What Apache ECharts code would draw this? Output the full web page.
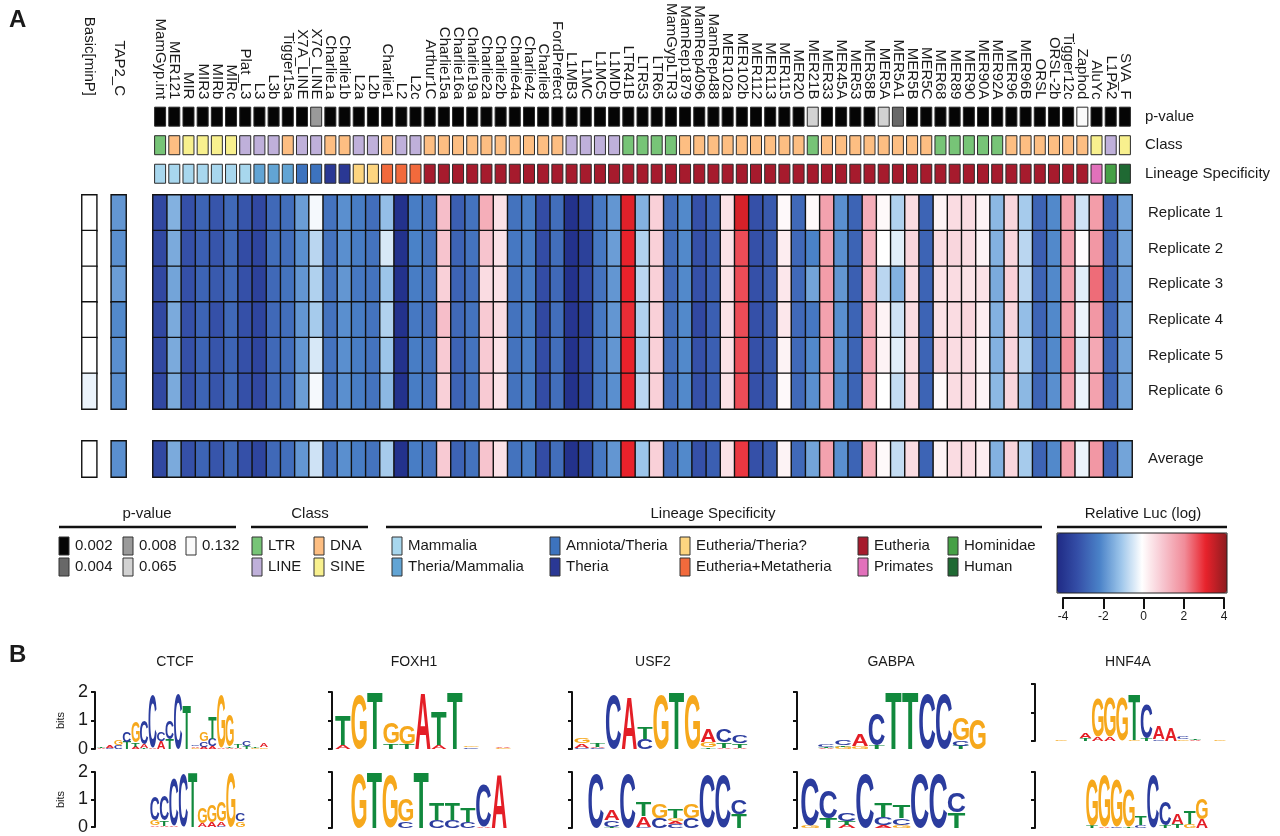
<!DOCTYPE html>
<html>
<head>
<meta charset="utf-8">
<script src="https://cdn.jsdelivr.net/npm/echarts@6/dist/echarts.min.js"></script>
<style>
  html, body { margin: 0; background: #fff; }
  #main { width: 1280px; height: 836px; }
</style>
</head>
<body>
<div id="main"></div>
<script>
// ---- panel A data ----
const columns = ['MamGyp.int', 'MER121', 'MIR', 'MIR3', 'MIRb', 'MIRc', 'Plat_L3', 'L3', 'L3b', 'Tigger15a',
  'X7A_LINE', 'X7C_LINE', 'Charlie1a', 'Charlie1b', 'L2a', 'L2b', 'Charlie1', 'L2', 'L2c', 'Arthur1C',
  'Charlie15a', 'Charlie16a', 'Charlie19a', 'Charlie2a', 'Charlie2b', 'Charlie4a', 'Charlie4z', 'Charlie8', 'FordPrefect', 'L1MB3',
  'L1MC', 'L1MC5', 'L1MDb', 'LTR41B', 'LTR53', 'LTR65', 'MamGypLTR3', 'MamRep1879', 'MamRep4096', 'MamRep488',
  'MER102a', 'MER102b', 'MER112', 'MER113', 'MER115', 'MER20', 'MER21B', 'MER33', 'MER45A', 'MER53',
  'MER58B', 'MER5A', 'MER5A1', 'MER5B', 'MER5C', 'MER68', 'MER89', 'MER90', 'MER90A', 'MER92A',
  'MER96', 'MER96B', 'ORSL', 'ORSL-2b', 'Tigger12c', 'Zaphod', 'AluYc', 'L1PA2', 'SVA_F'];

const pValues = [0.002, 0.002, 0.002, 0.002, 0.002, 0.002, 0.002, 0.002, 0.002, 0.002,
  0.002, 0.008, 0.002, 0.002, 0.002, 0.002, 0.002, 0.002, 0.002, 0.002,
  0.002, 0.002, 0.002, 0.002, 0.002, 0.002, 0.002, 0.002, 0.002, 0.002,
  0.002, 0.002, 0.002, 0.002, 0.002, 0.002, 0.002, 0.002, 0.002, 0.002,
  0.002, 0.002, 0.002, 0.002, 0.002, 0.002, 0.065, 0.002, 0.002, 0.002,
  0.002, 0.065, 0.004, 0.002, 0.002, 0.002, 0.002, 0.002, 0.002, 0.002,
  0.002, 0.002, 0.002, 0.002, 0.002, 0.132, 0.002, 0.002, 0.002];

const classes = ['LTR', 'DNA', 'SINE', 'SINE', 'SINE', 'SINE', 'LINE', 'LINE', 'LINE', 'DNA',
  'LINE', 'LINE', 'DNA', 'DNA', 'LINE', 'LINE', 'DNA', 'LINE', 'LINE', 'DNA',
  'DNA', 'DNA', 'DNA', 'DNA', 'DNA', 'DNA', 'DNA', 'DNA', 'DNA', 'LINE',
  'LINE', 'LINE', 'LINE', 'LTR', 'LTR', 'LTR', 'LTR', 'DNA', 'DNA', 'DNA',
  'DNA', 'DNA', 'DNA', 'DNA', 'DNA', 'DNA', 'LTR', 'DNA', 'DNA', 'DNA',
  'DNA', 'DNA', 'DNA', 'DNA', 'DNA', 'LTR', 'LTR', 'LTR', 'LTR', 'LTR',
  'DNA', 'DNA', 'DNA', 'DNA', 'DNA', 'DNA', 'SINE', 'LINE', 'SINE'];

const lineages = ['Mammalia', 'Mammalia', 'Mammalia', 'Mammalia', 'Mammalia', 'Mammalia', 'Mammalia',
  'Theria/Mammalia', 'Theria/Mammalia', 'Theria/Mammalia', 'Amniota/Theria', 'Amniota/Theria',
  'Theria', 'Theria', 'Eutheria/Theria?', 'Eutheria/Theria?',
  'Eutheria+Metatheria', 'Eutheria+Metatheria', 'Eutheria+Metatheria',
  'Eutheria', 'Eutheria', 'Eutheria', 'Eutheria', 'Eutheria', 'Eutheria', 'Eutheria', 'Eutheria', 'Eutheria', 'Eutheria',
  'Eutheria', 'Eutheria', 'Eutheria', 'Eutheria', 'Eutheria', 'Eutheria', 'Eutheria', 'Eutheria', 'Eutheria', 'Eutheria',
  'Eutheria', 'Eutheria', 'Eutheria', 'Eutheria', 'Eutheria', 'Eutheria', 'Eutheria', 'Eutheria', 'Eutheria', 'Eutheria',
  'Eutheria', 'Eutheria', 'Eutheria', 'Eutheria', 'Eutheria', 'Eutheria', 'Eutheria', 'Eutheria', 'Eutheria', 'Eutheria',
  'Eutheria', 'Eutheria', 'Eutheria', 'Eutheria', 'Eutheria', 'Eutheria', 'Eutheria',
  'Primates', 'Hominidae', 'Human'];

const rowNames = ['Replicate 1', 'Replicate 2', 'Replicate 3', 'Replicate 4', 'Replicate 5', 'Replicate 6'];

// relative luciferase (log), one array per replicate
const rep1 = [-3.2, -1.3, -3.0, -2.6, -2.9, -2.5, -2.9, -3.2, -2.5, -2.4,
  -1.6, -0.1, -2.3, -1.8, -2.1, -2.4, -1.1, -3.8, -2.1, -2.3,
  1.1, -2.7, -2.3, 1.4, 0.5, -2.3, -2.1, -3.1, -2.4, -3.8,
  -3.3, -2.2, -1.7, 3.1, -1.3, 0.8, -2.4, -1.9, -3.0, -2.6,
  0.5, 3.2, -3.0, -2.8, 0.1, -2.5, 0.1, 1.6, -1.8, -2.6,
  1.4, 0.1, -0.8, 0.6, -2.6, 0.2, 0.6, 0.6, 0.2, -1.2,
  0.7, -0.9, -2.6, -1.9, 1.6, -0.5, 1.7, -2.6, -1.5];
const rep2 = [-3.2, -1.4, -3.0, -2.7, -2.9, -2.5, -3.1, -3.3, -2.4, -2.4,
  -1.8, -0.7, -2.3, -1.8, -2.1, -2.3, -0.4, -3.8, -2.0, -2.3,
  1.0, -2.6, -2.3, 1.0, 0.5, -2.2, -2.1, -3.1, -2.4, -3.8,
  -3.4, -2.2, -1.6, 3.0, -0.8, 0.8, -2.4, -1.9, -3.0, -2.7,
  0.5, 2.6, -3.0, -2.8, 0.3, -2.5, -2.0, 1.6, -1.8, -2.6,
  1.3, 0.0, -0.3, 0.7, -2.6, 0.6, 0.7, 0.6, 0.2, -1.3,
  0.7, -0.7, -2.7, -1.9, 1.6, 0.05, 1.8, -2.6, -1.5];
const rep3 = [-3.2, -1.5, -3.0, -2.6, -2.8, -2.5, -3.0, -3.4, -2.5, -2.3,
  -1.7, -0.8, -2.3, -1.7, -2.2, -2.3, -1.0, -3.8, -2.1, -2.3,
  0.8, -2.6, -2.4, 0.6, 0.5, -2.3, -2.1, -3.1, -2.5, -3.8,
  -3.2, -2.3, -1.7, 3.0, -0.7, 0.8, -2.5, -1.9, -3.0, -2.7,
  0.5, 2.6, -3.0, -2.8, 0.4, -2.5, -1.5, 1.7, -1.7, -2.7,
  1.3, -0.7, -1.3, 0.6, -2.6, 0.5, 0.6, 0.5, 0.5, -1.4,
  0.8, -0.7, -2.6, -1.9, 1.6, -0.3, 2.3, -2.6, -1.6];
const rep4 = [-3.2, -1.4, -3.0, -2.6, -3.0, -2.5, -3.0, -3.3, -2.5, -2.4,
  -1.7, -0.9, -2.3, -1.8, -2.1, -2.3, -0.8, -3.8, -2.2, -2.4,
  1.1, -2.5, -2.3, 0.9, 0.6, -2.3, -2.1, -3.2, -2.4, -3.7,
  -3.4, -2.2, -1.7, 2.9, -0.8, 0.8, -2.4, -1.9, -3.2, -2.7,
  0.5, 2.6, -3.0, -2.8, 0.4, -2.5, -2.2, 1.6, -1.8, -2.6,
  1.4, 0.2, -0.5, 0.6, -2.6, 0.5, 0.6, 0.7, 0.3, -1.3,
  0.7, -1.1, -2.6, -1.9, 1.6, -0.2, 1.8, -2.6, -1.5];
const rep5 = [-3.2, -1.4, -3.0, -2.6, -2.9, -2.6, -3.0, -3.3, -2.5, -2.4,
  -1.7, -0.4, -2.3, -1.8, -2.1, -2.3, -1.0, -3.8, -2.1, -2.3,
  0.9, -2.6, -2.3, 0.9, 0.5, -2.3, -2.1, -3.1, -2.4, -3.8,
  -3.2, -2.2, -1.7, 3.0, -0.9, 0.8, -2.4, -1.9, -3.0, -2.7,
  0.5, 2.6, -3.0, -2.8, 0.2, -2.5, -1.9, 1.6, -1.8, -2.6,
  1.5, 0.2, -0.3, 0.6, -2.6, 0.7, 0.6, 0.6, 0.2, -1.3,
  0.7, -0.8, -2.6, -1.9, 1.9, -0.4, 1.5, -2.6, -1.5];
const rep6 = [-3.2, -1.4, -3.0, -2.6, -2.9, -2.5, -3.0, -3.2, -2.5, -2.4,
  -1.6, -0.1, -2.3, -1.8, -2.1, -2.3, -1.2, -3.8, -2.1, -2.3,
  0.8, -2.6, -2.3, 0.9, 0.5, -2.3, -2.1, -3.1, -2.4, -3.8,
  -3.3, -2.2, -1.8, 3.0, -0.7, 0.8, -2.4, -1.9, -3.0, -2.7,
  0.5, 2.6, -3.0, -2.8, 0.1, -2.5, -1.8, 1.5, -1.9, -2.6,
  1.4, 0.0, -0.6, 0.6, -2.6, 0.1, 0.6, 0.6, 0.2, -1.2,
  0.7, -1.2, -2.6, -1.8, 1.6, -0.2, 1.6, -2.6, -1.5];
const average = [-3.2, -1.4, -3.0, -2.6, -2.9, -2.5, -3.0, -3.3, -2.5, -2.4,
  -1.7, -0.5, -2.3, -1.8, -2.1, -2.3, -0.9, -3.8, -2.1, -2.3,
  0.9, -2.6, -2.3, 1.0, 0.5, -2.3, -2.1, -3.1, -2.4, -3.8,
  -3.3, -2.2, -1.7, 3.0, -1.0, 0.8, -2.4, -1.9, -3.0, -2.7,
  0.5, 2.8, -3.0, -2.8, 0.2, -2.5, -1.5, 1.6, -1.8, -2.6,
  1.4, 0.1, -0.6, 0.6, -2.6, 0.2, 0.6, 0.6, 0.3, -1.3,
  0.7, -0.9, -2.6, -1.9, 1.6, -0.2, 1.8, -2.6, -1.5];

// control constructs on the left
const controls = ['Basic[minP]', '', 'TAP2_C'];
const basicMinP = [0, 0, 0, 0, 0, -0.2];
const tap2C = [-1.7, -1.8, -1.6, -1.9, -1.8, -1.8];
const basicMinPAvg = 0;
const tap2CAvg = -1.8;

// ---- panel B data: motif logos, one string per position, letters bottom -> top with bits ----
const ctcfTop = ['A.04 T.06', 'C.05 A.08', 'C.12 G.2', 'T.25 C.35', 'A.08 T.15 G.75', 'T.05 A.12 C.85', 'A.05 C1.85',
  'A.28 C.32', 'T.35 C.65', 'C1.95', 'T1.55', 'G.04 A.06 C.05', 'A.08 C.2 G.32', 'A.1 C.25 T.75', 'A.05 G1.85',
  'A.05 T.05 G1.1', 'A.05 T.12', 'T.1 C.18', 'G.05 T.05', 'G.06 A.14'];
const ctcfBottom = ['A.06 G.2 C.85', 'A.04 T.2 C.9', 'A.05 C1.7', 'C1.9', 'T2', 'A.15 G.55', 'A.18 G.6',
  'C.04 A.16 G.7', 'G1.95', 'G.2 C.3'];
const foxh1Top = ['A.15 T1.05', 'G1.9', 'T2', 'T.2 G.75', 'T.18 G.65', 'A1.95', 'A.15 T1.2', 'T2', 'C.06 G.06', '', 'G.03 A.04'];
const foxh1Bottom = ['G1.95', 'T2', 'G1.9', 'C.25 G.8', 'T2', 'C.3 T.6', 'C.3 T.6', 'C.22 T.5', 'A.06 C1.5', 'A1.9'];
const usf2Top = ['C.05 A.15 G.2', 'C.05 A.03 T.12', 'C1.9', 'A1.8', 'C.35 T.4', 'G1.9', 'T2', 'G1.9', 'T.05 G.2 A.45',
  'A.05 T.2 C.45', 'A.05 T.15 C.25'];
const usf2Bottom = ['C1.95', 'T.05 C.22 A.35', 'C1.95', 'C.05 A.38 T.5', 'C.35 G.5', 'C.15 A.1 G.1 T.3', 'C.35 G.5',
  'C1.9', 'C1.9', 'T.5 C.5'];
const gabpaTop = ['A.03 T.05 C.08', 'G.08 T.05 C.2', 'G.1 A.4', 'T.12 C1.1', 'T2', 'T2', 'C1.95', 'C1.95', 'T.12 C.18 G.8', 'G1.05'];
const gabpaBottom = ['G.08 C1.7', 'T.35 C1.0', 'A.12 T.12 C.3', 'C1.95', 'A.1 C.3 T.5', 'G.1 C.25 T.45', 'C1.95', 'C1.95', 'T.55 C.7'];
const hnf4aTop = ['G.02', '', 'T.1 A.2', 'A.15 G1.35', 'A.15 G1.4', 'G1.5', 'G.05 T1.6', 'T.08 C1.2', 'C.06 A.45', 'A.45',
  'G.06 C.1', 'A.05 T.06', '', 'G.02'];
const hnf4aBottom = ['T.08 G1.65', 'A.05 G1.85', 'C.05 G1.7', 'T.05 G1.3', 'C.1 T.3', 'C1.9', 'T.1 C.85', 'T.15 A.35',
  'G.15 T.45', 'A.3 G.75'];

// ---- styles ----
const FONT = '"Liberation Sans", Arial, sans-serif';
const INK = '#1a1a1a';
const heatColors = ['#1f2a85', '#3550a8', '#4a82c8', '#9cc5ea', '#ffffff', '#f7c4ce', '#f18c99', '#e8222b', '#8c1c1f'];
const pColors = { 0.002: '#050505', 0.004: '#686868', 0.008: '#9a9a9a', 0.065: '#d2d2d2', 0.132: '#fafafa' };
const classColors = { LTR: '#77c477', LINE: '#bfb0da', DNA: '#fdbe82', SINE: '#f8f08e' };
const lineageColors = {
  'Mammalia': '#a8d7ee', 'Theria/Mammalia': '#62a4d4', 'Amniota/Theria': '#3d73be', 'Theria': '#2a3894',
  'Eutheria/Theria?': '#fdd580', 'Eutheria+Metatheria': '#f26a3c', 'Eutheria': '#a61b2d',
  'Primates': '#e271bb', 'Hominidae': '#46a046', 'Human': '#1f6933'
};
const letterColors = { A: '#e41e26', C: '#2b3c9e', G: '#f6a81c', T: '#11893d' };

// ---- build ----
const replicates = [rep1, rep2, rep3, rep4, rep5, rep6];
const heatData = [];
replicates.forEach((row, r) => row.forEach((v, c) => heatData.push([c, r, v])));
const avgData = average.map((v, c) => [c, 0, v]);
const ctrlData = [];
basicMinP.forEach((v, r) => ctrlData.push([0, r, v]));
tap2C.forEach((v, r) => ctrlData.push([2, r, v]));
const ctrlAvgData = [[0, 0, basicMinPAvg], [2, 0, tap2CAvg]];
const annotData = [];
for (let r = 0; r < 3; r++) columns.forEach((_, c) => annotData.push([c, r]));

function annotColor(c, r) {
  if (r === 0) return pColors[pValues[c]];
  if (r === 1) return classColors[classes[c]];
  return lineageColors[lineages[c]];
}

function renderAnnot(params, api) {
  const c = api.value(0), r = api.value(1);
  const p = api.coord([c, r]);
  const w = 11, h = 19;
  return {
    type: 'rect',
    shape: { x: p[0] - w / 2, y: p[1] - h / 2, width: w, height: h },
    style: { fill: annotColor(c, r), stroke: '#2a2a2a', lineWidth: 1 }
  };
}

// glyph ink metrics so each letter fills exactly its box
const LOGO_FONT = 'bold 100px "Liberation Sans"';
const glyph = {};
const mctx = document.createElement('canvas').getContext('2d');
mctx.font = LOGO_FONT;
mctx.textBaseline = 'middle';
mctx.textAlign = 'left';
'ACGT'.split('').forEach(L => {
  const m = mctx.measureText(L);
  glyph[L] = {
    left: m.actualBoundingBoxLeft,
    w: m.actualBoundingBoxLeft + m.actualBoundingBoxRight,
    descent: m.actualBoundingBoxDescent,
    h: m.actualBoundingBoxAscent + m.actualBoundingBoxDescent
  };
});

function renderLetter(params, api) {
  const i = api.value(0), y0 = api.value(1), y1 = api.value(2);
  const L = 'ACGT'[api.value(3)];
  const bottom = api.coord([i, y0]);
  const top = api.coord([i, y1]);
  const bw = api.size([1, 0])[0] * 0.96;
  const h = bottom[1] - top[1];
  if (h < 0.4) return;
  const g = glyph[L];
  const sx = bw / g.w, sy = h / g.h;
  const x0 = bottom[0] - bw / 2;
  return {
    type: 'text',
    x: x0 + sx * g.left,
    y: bottom[1] - sy * g.descent,
    scaleX: sx,
    scaleY: sy,
    silent: true,
    style: {
      text: L, x: 0, y: 0, font: LOGO_FONT, fill: letterColors[L],
      align: 'left', verticalAlign: 'middle', textAlign: 'left', textVerticalAlign: 'middle'
    }
  };
}

function parseStack(s) {
  const out = [];
  s.replace(/([ACGT])([\d.]+)/g, (_, L, b) => { out.push([L, parseFloat(b)]); return ''; });
  return out;
}

const logos = [
  { name: 'CTCF', data: ctcfTop, axisX: 95, left: 97, pitch: 8.55, top: 692, base: 749, labels: true },
  { data: ctcfBottom, axisX: 95, left: 150, pitch: 9.5, top: 772, base: 828, labels: true },
  { name: 'FOXH1', data: foxh1Top, axisX: 332, left: 335, pitch: 16, top: 692, base: 749 },
  { data: foxh1Bottom, axisX: 332, left: 351, pitch: 15.6, top: 772, base: 828 },
  { name: 'USF2', data: usf2Top, axisX: 572, left: 574, pitch: 15.8, top: 692, base: 749 },
  { data: usf2Bottom, axisX: 572, left: 588, pitch: 15.9, top: 772, base: 828 },
  { name: 'GABPA', data: gabpaTop, axisX: 797, left: 818, pitch: 16.8, top: 692, base: 749 },
  { data: gabpaBottom, axisX: 797, left: 801, pitch: 18.3, top: 772, base: 828 },
  { name: 'HNF4A', data: hnf4aTop, axisX: 1035, left: 1055, pitch: 12.2, top: 684, base: 741 },
  { data: hnf4aBottom, axisX: 1035, left: 1086, pitch: 12.2, top: 772, base: 828 }
];
const logoTitleX = { CTCF: 175, FOXH1: 414, USF2: 653, GABPA: 891, HNF4A: 1128 };

const HEAT_LEFT = 153, HEAT_W = 979;
const grid = [
  { left: HEAT_LEFT, width: HEAT_W, top: 99, height: 89 },   // 0 annotation rows
  { left: HEAT_LEFT, width: HEAT_W, top: 195, height: 214 },  // 1 replicates
  { left: HEAT_LEFT, width: HEAT_W, top: 441, height: 36 },   // 2 average
  { left: 82, width: 44, top: 99, height: 89 },               // 3 control labels
  { left: 82, width: 44, top: 195, height: 214 },             // 4 control replicates
  { left: 82, width: 44, top: 441, height: 36 },              // 5 control average
  { left: 1063, width: 161, top: 586, height: 12 }            // 6 colour bar ticks
];
const hiddenCat = (gi, data, inverse) => ({ gridIndex: gi, type: 'category', data, show: false, inverse: !!inverse });
const topLabels = (gi, data) => ({
  gridIndex: gi, type: 'category', data, position: 'top',
  axisLine: { show: false }, axisTick: { show: false },
  axisLabel: { interval: 0, rotate: 90, margin: 3, fontSize: 15, color: INK, fontFamily: FONT }
});
const rightLabels = (gi, data, margin) => ({
  gridIndex: gi, type: 'category', data, position: 'right', inverse: true,
  axisLine: { show: false }, axisTick: { show: false },
  axisLabel: { interval: 0, margin, fontSize: 15, color: INK, fontFamily: FONT }
});
const xAxis = [
  topLabels(0, columns),
  hiddenCat(1, columns),
  hiddenCat(2, columns),
  topLabels(3, controls),
  hiddenCat(4, controls),
  hiddenCat(5, controls),
  {
    gridIndex: 6, type: 'value', min: -4, max: 4, interval: 2, position: 'bottom',
    axisLine: { lineStyle: { color: '#111', width: 2 } },
    axisTick: { length: 11, lineStyle: { color: '#111', width: 2 } },
    axisLabel: { margin: 13, fontSize: 12, color: INK, fontFamily: FONT },
    splitLine: { show: false }
  }
];
const yAxis = [
  rightLabels(0, ['p-value', 'Class', 'Lineage Specificity'], 13),
  rightLabels(1, rowNames, 16),
  rightLabels(2, ['Average'], 16),
  hiddenCat(3, ['']),
  hiddenCat(4, rowNames, true),
  hiddenCat(5, ['Average']),
  { gridIndex: 6, type: 'value', show: false }
];
const cellStyle = { borderColor: '#111', borderWidth: 1.4 };
const series = [
  { type: 'custom', xAxisIndex: 0, yAxisIndex: 0, renderItem: renderAnnot, data: annotData, silent: true },
  { type: 'heatmap', xAxisIndex: 1, yAxisIndex: 1, data: heatData, itemStyle: cellStyle, silent: true },
  { type: 'heatmap', xAxisIndex: 2, yAxisIndex: 2, data: avgData, itemStyle: cellStyle, silent: true },
  { type: 'heatmap', xAxisIndex: 4, yAxisIndex: 4, data: ctrlData, itemStyle: cellStyle, silent: true },
  { type: 'heatmap', xAxisIndex: 5, yAxisIndex: 5, data: ctrlAvgData, itemStyle: cellStyle, silent: true }
];

logos.forEach((lg, k) => {
  const gi = grid.length;
  grid.push({ left: lg.left, top: lg.top, width: lg.data.length * lg.pitch, height: lg.base - lg.top });
  xAxis.push({ gridIndex: gi, type: 'category', data: lg.data.map((_, i) => i), show: false });
  yAxis.push({
    gridIndex: gi, type: 'value', min: 0, max: 2, interval: 1, offset: lg.left - lg.axisX,
    axisLine: { show: true, lineStyle: { color: '#111', width: 2 } },
    axisTick: { show: true, length: 4, lineStyle: { color: '#111', width: 2 } },
    axisLabel: { show: !!lg.labels, fontSize: 18, margin: 7, color: INK, fontFamily: FONT },
    splitLine: { show: false },
    name: lg.labels ? 'bits' : '', nameLocation: 'middle', nameGap: 29, nameRotate: 90,
    nameTextStyle: { fontSize: 11, color: INK, fontFamily: FONT }
  });
  const items = [];
  lg.data.forEach((s, i) => {
    let acc = 0;
    parseStack(s).forEach(([L, b]) => {
      items.push([i, acc, acc + b, 'ACGT'.indexOf(L)]);
      acc += b;
    });
  });
  series.push({ type: 'custom', xAxisIndex: gi, yAxisIndex: gi, renderItem: renderLetter, data: items, silent: true, clip: false });
});

// ---- legends and panel letters ----
function txt(text, x, y, size, align, weight) {
  return {
    type: 'text', x, y, silent: true,
    style: {
      text, fill: INK, font: (weight || 'normal') + ' ' + size + 'px ' + FONT,
      align: align || 'left', verticalAlign: 'middle', textAlign: align || 'left', textVerticalAlign: 'middle'
    }
  };
}
function box(x, yc, fill) {
  return { type: 'rect', silent: true, shape: { x, y: yc - 9, width: 10, height: 18 }, style: { fill, stroke: '#333', lineWidth: 1 } };
}
function rule(x1, x2, y) {
  return { type: 'rect', silent: true, shape: { x: x1, y: y - 1.25, width: x2 - x1, height: 2.5 }, style: { fill: '#111' } };
}
const ROW1 = 546, ROW2 = 567, TITLE_Y = 514, RULE_Y = 527;
const graphic = [
  txt('A', 9, 20, 24, 'left', 'bold'),
  txt('B', 9, 655, 24, 'left', 'bold'),
  txt('p-value', 147, TITLE_Y, 15, 'center'), rule(59, 236, RULE_Y),
  txt('Class', 310, TITLE_Y, 15, 'center'), rule(251, 368, RULE_Y),
  txt('Lineage Specificity', 713, TITLE_Y, 15, 'center'), rule(386, 1042, RULE_Y),
  txt('Relative Luc (log)', 1143, TITLE_Y, 15, 'center'), rule(1057, 1227, RULE_Y)
];
[[59, ROW1, 0.002], [123, ROW1, 0.008], [186, ROW1, 0.132], [59, ROW2, 0.004], [123, ROW2, 0.065]].forEach(([x, y, p]) => {
  graphic.push(box(x, y, pColors[p]), txt(p.toFixed(3), x + 16, y, 15));
});
[[252, ROW1, 'LTR'], [314, ROW1, 'DNA'], [252, ROW2, 'LINE'], [314, ROW2, 'SINE']].forEach(([x, y, k]) => {
  graphic.push(box(x, y, classColors[k]), txt(k, x + 16, y, 15));
});
[[392, ROW1, 'Mammalia'], [550, ROW1, 'Amniota/Theria'], [680, ROW1, 'Eutheria/Theria?'], [858, ROW1, 'Eutheria'], [948, ROW1, 'Hominidae'],
 [392, ROW2, 'Theria/Mammalia'], [550, ROW2, 'Theria'], [680, ROW2, 'Eutheria+Metatheria'], [858, ROW2, 'Primates'], [948, ROW2, 'Human']]
  .forEach(([x, y, k]) => { graphic.push(box(x, y, lineageColors[k]), txt(k, x + 16, y, 15)); });
graphic.push({ type: 'rect', silent: true, z: 100, shape: { x: 1057, y: 533, width: 170, height: 60 }, style: { fill: 'none', stroke: '#222', lineWidth: 1 } });
logos.forEach(lg => { if (lg.name) graphic.push(txt(lg.name, logoTitleX[lg.name], 662, 14, 'center')); });

const option = {
  animation: false,
  backgroundColor: '#fff',
  textStyle: { fontFamily: FONT },
  grid,
  xAxis,
  yAxis,
  visualMap: {
    type: 'continuous', min: -4, max: 4, seriesIndex: [1, 2, 3, 4],
    orient: 'horizontal', left: 1057, top: 533, itemWidth: 60, itemHeight: 170,
    padding: 0, calculable: false, hoverLink: false, text: null, showLabel: false,
    inRange: { color: heatColors }
  },
  graphic,
  series
};

const chart = echarts.init(document.getElementById('main'));
chart.setOption(option);
</script>
</body>
</html>
